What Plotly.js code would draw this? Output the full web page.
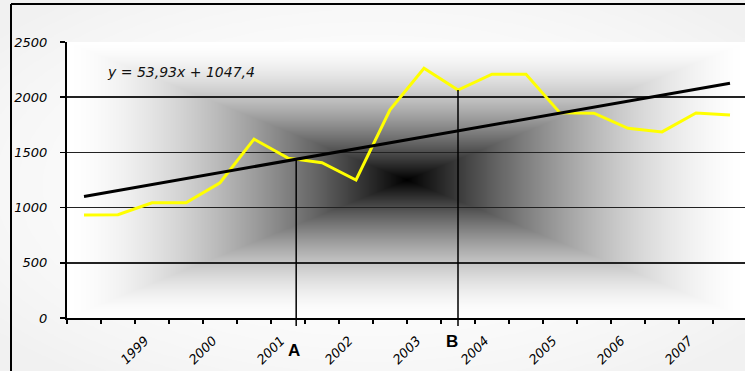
<!DOCTYPE html>
<html>
<head>
<meta charset="utf-8">
<script src="https://cdn.plot.ly/plotly-3.0.1.min.js"></script>
<style>html,body{margin:0;padding:0;background:#fff;}#chart{width:745px;height:371px;}</style>
</head>
<body>
<div id="chart"></div>
<script>
// ---- data ----
const values = [933, 935, 1043, 1043, 1225, 1620, 1448, 1406, 1250, 1885, 2262, 2065, 2208, 2208, 1858, 1855, 1718, 1686, 1857, 1838];
const yearLabels = ["1999", "2000", "2001", "2002", "2003", "2004", "2005", "2006", "2007"];
const yearPositions = [3, 5, 7, 9, 11, 13, 15, 17, 19];
const trendSlope = 53.93;
const trendIntercept = 1047.4;
const equationText = "y = 53,93x + 1047,4";
const markerB = 12;           // category where line B is drawn
const yMax = 2500;
const yTicks = [0, 500, 1000, 1500, 2000, 2500];

// ---- derived ----
const xIdx = values.map((v, i) => i + 1);
const trendY = xIdx.map(x => trendSlope * x + trendIntercept);

// intersection of data and trend line (point A)
let markerA = null, markerAY = null;
for (let i = 0; i < values.length - 1 && markerA === null; i++) {
  const d0 = values[i] - trendY[i], d1 = values[i + 1] - trendY[i + 1];
  if (i > 2 && d0 > 0 && d1 <= 0) {
    const f = d0 / (d0 - d1);
    markerA = xIdx[i] + f;
    markerAY = trendSlope * markerA + trendIntercept;
  }
}
const markerBY = values[markerB - 1];

// ---- background gradients ----
function makeGradient(w, h, fn) {
  const c = document.createElement('canvas');
  c.width = w; c.height = h;
  const ctx = c.getContext('2d');
  const img = ctx.createImageData(w, h);
  for (let j = 0; j < h; j++) {
    for (let i = 0; i < w; i++) {
      const tx = Math.abs((i + 0.5) - w / 2) / (w / 2);
      const ty = Math.abs((j + 0.5) - h / 2) / (h / 2);
      const g = fn(Math.min(1, Math.max(tx, ty)), tx, ty);
      const k = (j * w + i) * 4;
      img.data[k] = img.data[k + 1] = img.data[k + 2] = g;
      img.data[k + 3] = 255;
    }
  }
  ctx.putImageData(img, 0, 0);
  return c.toDataURL('image/png');
}
const plotBg = makeGradient(680, 276, t => Math.round(255 * (1 - Math.pow(1 - t, 1.6))));
const paperBg = makeGradient(800, 420, (t, tx, ty) => Math.round(255 - 14 * Math.pow(Math.min(1, Math.sqrt(tx * tx + ty * ty) / 1.3), 2)));

const W = 745, H = 371, L = 67, T = 42, B = 53;
const plotW = W - L, plotH = H - T - B;
const pxPerCat = 34;
const xEnd = 0.5 + plotW / pxPerCat;

const traces = [
  {
    x: xIdx, y: values, type: 'scatter', mode: 'lines',
    line: {color: '#FFFF00', width: 3}, hoverinfo: 'skip'
  },
  {
    x: xIdx, y: trendY, type: 'scatter', mode: 'lines',
    line: {color: '#000000', width: 3}, hoverinfo: 'skip'
  }
];

const yTickFont = {family: 'DejaVu Sans', size: 13, color: '#000', style: 'italic'};
const xTickFont = {family: 'DejaVu Sans', size: 13, color: '#000', style: 'italic'};

const layout = {
  width: W, height: H,
  margin: {l: L, r: 0, t: T, b: B, pad: 0},
  paper_bgcolor: '#ffffff',
  plot_bgcolor: 'rgba(0,0,0,0)',
  showlegend: false,
  xaxis: {
    range: [0.5, xEnd],
    tickmode: 'array', tickvals: yearPositions, ticktext: yearLabels,
    tickangle: -45, ticks: '', tickfont: xTickFont,
    ticklabelstandoff: 8, ticklabelshift: -7,
    showgrid: false, zeroline: false,
    showline: true, linecolor: '#000', linewidth: 2,
    minor: {tickmode: 'linear', tick0: 0.5, dtick: 1, ticks: 'outside', ticklen: 4, tickcolor: '#000', tickwidth: 1.5, showgrid: false},
    fixedrange: true
  },
  yaxis: {
    range: [0, yMax],
    tickmode: 'array', tickvals: yTicks,
    ticks: 'outside', ticklen: 5, tickcolor: '#000', tickwidth: 1.5,
    tickfont: yTickFont, ticklabelstandoff: 10,
    showgrid: true, gridcolor: '#222', gridwidth: 1.5,
    zeroline: false,
    showline: true, linecolor: '#000', linewidth: 2,
    fixedrange: true
  },
  images: [
    {source: paperBg, xref: 'paper', yref: 'paper', x: -L / plotW, y: 1 + T / plotH, sizex: W / plotW, sizey: H / plotH, sizing: 'stretch', layer: 'below', xanchor: 'left', yanchor: 'top'},
    {source: plotBg, xref: 'x', yref: 'y', x: 0.5, y: yMax, sizex: 20, sizey: yMax, sizing: 'stretch', layer: 'below', xanchor: 'left', yanchor: 'top'}
  ],
  shapes: [
    // outer frame
    {type: 'line', xref: 'paper', yref: 'paper', x0: (11 - L) / plotW, x1: (11 - L) / plotW, y0: 1 + (T - 4) / plotH, y1: -(B + 5) / plotH, line: {color: '#000', width: 2}},
    {type: 'line', xref: 'paper', yref: 'paper', x0: (11 - L) / plotW, x1: 1.05, y0: 1 + (T - 4) / plotH, y1: 1 + (T - 4) / plotH, line: {color: '#000', width: 2}},
    // A and B drop lines
    {type: 'line', xref: 'x', yref: 'paper', x0: markerA, x1: markerA, y0: markerAY / yMax, y1: -8 / plotH, line: {color: '#000', width: 1.5}},
    {type: 'line', xref: 'x', yref: 'paper', x0: markerB, x1: markerB, y0: markerBY / yMax, y1: -8 / plotH, line: {color: '#000', width: 1.5}}
  ],
  annotations: [
    {text: equationText, xref: 'paper', yref: 'paper', x: (105 - L) / plotW, y: (T + plotH - 72) / plotH, xanchor: 'left', yanchor: 'middle', showarrow: false,
     font: {family: 'DejaVu Sans', size: 14, color: '#111', style: 'italic'}},
    {text: '<b>A</b>', xref: 'x', yref: 'paper', x: markerA, xshift: -2, y: -32 / plotH, xanchor: 'center', yanchor: 'middle', showarrow: false,
     font: {family: 'Liberation Sans', size: 17, color: '#000'}},
    {text: '<b>B</b>', xref: 'x', yref: 'paper', x: markerB, xshift: -6, y: -23 / plotH, xanchor: 'center', yanchor: 'middle', showarrow: false,
     font: {family: 'Liberation Sans', size: 17, color: '#000'}}
  ]
};

Plotly.newPlot('chart', traces, layout, {displayModeBar: false, staticPlot: true});
</script>
</body>
</html>
